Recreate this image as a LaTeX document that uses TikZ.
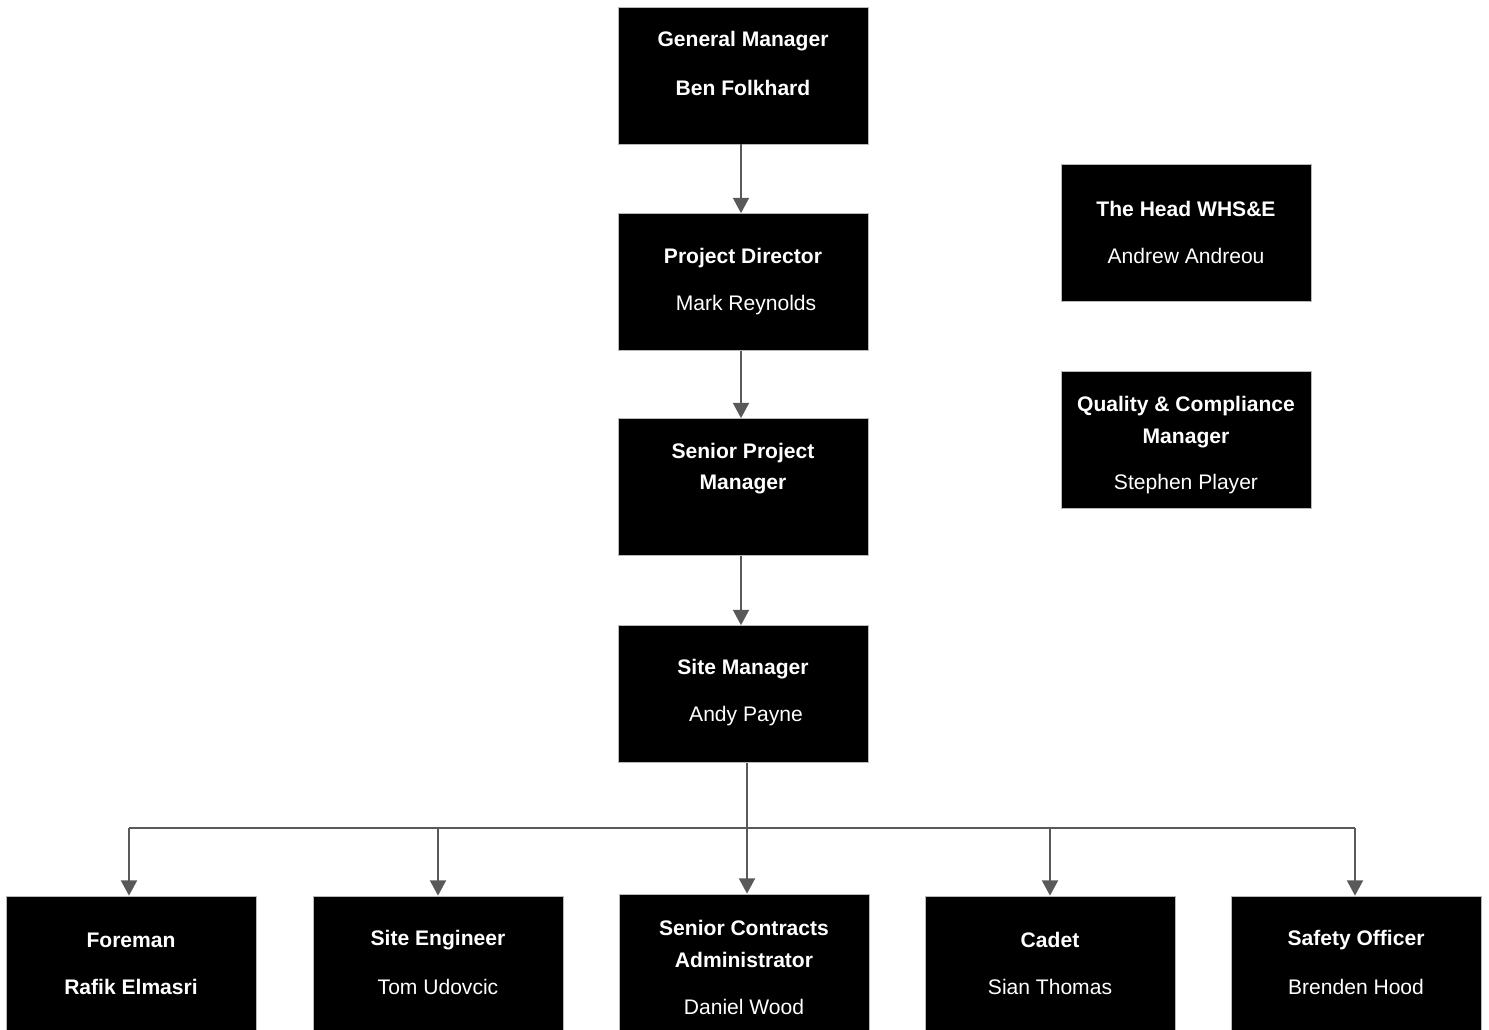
\documentclass[tikz,border=0pt]{standalone}
\usepackage{fontspec}
\setmainfont{Liberation Sans}
\usetikzlibrary{arrows.meta}
\tikzset{
  box/.style={draw=gray!55, line width=0.5pt, fill=black, minimum width=187.5pt, minimum height=102.75pt, inner sep=0pt},
  bt/.style={text=white, font=\fontsize{15.8}{18}\selectfont\bfseries, inner sep=0pt, yshift=-2.25pt},
  rt/.style={text=white, font=\fontsize{15.8}{18}\selectfont, inner sep=0pt, yshift=-2.25pt},
  ln/.style={draw=black!65, line width=1.5pt},
  arr/.style={ln, -{Triangle[width=12pt,length=11.5pt]}}
}
\begin{document}
\begin{tikzpicture}[x=0.75pt,y=-0.75pt]
\useasboundingbox (0,0) rectangle (1489,1030);
% central column
\node[box] (gm) at (743,75.5) {};
\node[bt] (gm1) at (743,38) {General Manager};
\node[bt] (gm2) at (743,85) {Ben Folkhard};
\node[box] (pd) at (743,282) {};
\node[bt] (pd1) at (743,255) {Project Director};
\node[rt] (pd2) at (746,302) {Mark Reynolds};
\node[box] (spm) at (743,487) {};
\node[bt] (spm1) at (743,450) {Senior Project};
\node[bt] (spm2) at (743,481) {Manager};
\node[box] (sm) at (743,694) {};
\node[bt] (sm1) at (743,666) {Site Manager};
\node[rt] (sm2) at (746,713) {Andy Payne};
% side boxes
\node[box] (whs) at (1186,233) {};
\node[bt] (whs1) at (1186,206) {The Head WHS\&E};
\node[rt] (whs2) at (1186,253) {Andrew Andreou};
\node[box] (qc) at (1186,439.5) {};
\node[bt] (qc1) at (1186,403) {Quality \& Compliance};
\node[bt] (qc2) at (1186,435) {Manager};
\node[rt] (qc3) at (1186,481) {Stephen Player};
% bottom row
\node[box] (fm) at (131,964.5) {};
\node[bt] (fm1) at (131,937) {Foreman};
\node[bt] (fm2) at (131,984) {Rafik Elmasri};
\node[box] (se) at (438,964.5) {};
\node[bt] (se1) at (438,937) {Site Engineer};
\node[rt] (se2) at (438,984) {Tom Udovcic};
\node[box] (sca) at (744,962.5) {};
\node[bt] (sca1) at (744,925) {Senior Contracts};
\node[bt] (sca2) at (744,957) {Administrator};
\node[rt] (sca3) at (744,1004) {Daniel Wood};
\node[box] (cd) at (1050,964.5) {};
\node[bt] (cd1) at (1050,937) {Cadet};
\node[rt] (cd2) at (1050,984) {Sian Thomas};
\node[box] (so) at (1356,964.5) {};
\node[bt] (so1) at (1356,937) {Safety Officer};
\node[rt] (so2) at (1356,984) {Brenden Hood};
% connectors
\draw[arr] ([xshift=-1.5pt]gm.south) -- ([xshift=-1.5pt]pd.north);
\draw[arr] ([xshift=-1.5pt]pd.south) -- ([xshift=-1.5pt]spm.north);
\draw[arr] ([xshift=-1.5pt]spm.south) -- ([xshift=-1.5pt]sm.north);
\draw[arr] ([xshift=3pt]sm.south) -- ([xshift=2.25pt]sca.north);
\coordinate (barL) at (129,828);
\coordinate (barR) at (1355,828);
\draw[ln] (barL) -- (barR);
\draw[arr] (barL) -- (fm.north -| barL);
\draw[arr] (se.north |- barL) -- (se.north);
\draw[arr] (cd.north |- barL) -- (cd.north);
\draw[arr] (barR) -- (so.north -| barR);
\end{tikzpicture}
\end{document}
